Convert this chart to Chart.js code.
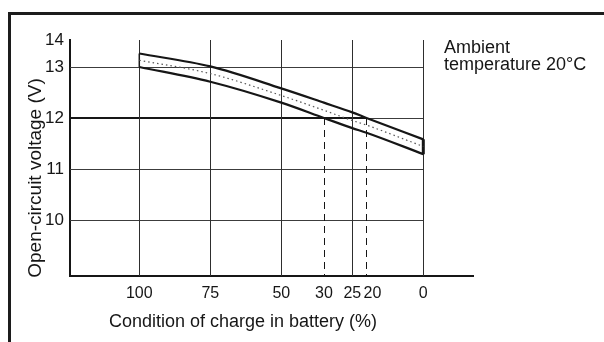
<!DOCTYPE html>
<html>
<head>
<meta charset="utf-8">
<script src="https://cdn.jsdelivr.net/npm/chart.js@4/dist/chart.umd.min.js"></script>
<style>
  html, body { margin: 0; padding: 0; background: #fff; }
  #wrap { width: 604px; height: 342px; }
</style>
</head>
<body>
<div id="wrap"><canvas id="c" width="604" height="342"></canvas></div>
<script>
// ---- data ----
const chargePct   = [100, 75, 50, 30, 25, 20, 0];              // % state of charge
const upperV      = [13.5, 13.02, 12.58, 12.30, 12.11, 12.0, 11.58];
const middleV     = [13.25, 12.87, 12.44, 12.15, 11.95, 11.86, 11.44];
const lowerV      = [13.0, 12.71, 12.30, 12.0, 11.80, 11.71, 11.29];
const xTickValues = [100, 75, 50, 30, 25, 20, 0];
const yTickValues = [10, 11, 12, 13, 14];
const solidGridPct = [100, 75, 50, 25, 0];
const dashedGridPct = [30, 20];
const solidGridV = [10, 11, 13];
const markerV = 12;
const xTitle = 'Condition of charge in battery (%)';
const yTitle = 'Open-circuit voltage (V)';
const noteLines = ['Ambient', 'temperature 20°C'];

// ---- a linear scale whose spacing between tick labels is not uniform (as drawn) ----
class WarpScale extends Chart.LinearScale {
  warp(v) {
    const k = this.options.knots || [];
    if (!k.length) return v;
    if (v <= k[0][0]) return v - k[0][0] + k[0][1];
    const last = k[k.length - 1];
    if (v >= last[0]) return v - last[0] + last[1];
    for (let i = 1; i < k.length; i++) {
      if (v <= k[i][0]) {
        const t = (v - k[i-1][0]) / (k[i][0] - k[i-1][0]);
        return k[i-1][1] + t * (k[i][1] - k[i-1][1]);
      }
    }
    return v;
  }
  unwarp(u) {
    const k = this.options.knots || [];
    if (!k.length) return u;
    if (u <= k[0][1]) return u - k[0][1] + k[0][0];
    const last = k[k.length - 1];
    if (u >= last[1]) return u - last[1] + last[0];
    for (let i = 1; i < k.length; i++) {
      if (u <= k[i][1]) {
        const t = (u - k[i-1][1]) / (k[i][1] - k[i-1][1]);
        return k[i-1][0] + t * (k[i][0] - k[i-1][0]);
      }
    }
    return u;
  }
  determineDataLimits() {
    super.determineDataLimits();
    this.min = this.warp(this.min);
    this.max = this.warp(this.max);
  }
  getPixelForValue(v) { return super.getPixelForValue(this.warp(v)); }
  getValueForPixel(p) { return this.unwarp(super.getValueForPixel(p)); }
  _computeLabelItems(ca) {
    const items = super._computeLabelItems(ca);
    const nudge = this.options.labelNudge || {};
    items.forEach((it, i) => {
      const t = this.ticks[i];
      if (t && nudge[t.value]) it.options.translation[0] += nudge[t.value];
    });
    return items;
  }
}
WarpScale.id = 'warp';
WarpScale.defaults = Chart.LinearScale.defaults;
Chart.register(WarpScale);

const FONT = '"Liberation Sans", Arial, Helvetica, sans-serif';
const INK = '#161616';

const pts = (ys) => chargePct.map((c, i) => ({ x: c, y: ys[i] }));

const decor = {
  id: 'decor',
  beforeDatasetsDraw(chart) {
    const { ctx, scales: { x, y } } = chart;
    const top = y.getPixelForValue(14), bottom = y.bottom;
    const xr = x.getPixelForValue(0), xl = x.left;
    ctx.save();
    ctx.lineCap = 'butt';
    // horizontal grid
    ctx.strokeStyle = '#3c3c3c'; ctx.lineWidth = 1;
    solidGridV.forEach(v => {
      const py = Math.round(y.getPixelForValue(v)) + 0.5;
      ctx.beginPath(); ctx.moveTo(xl, py); ctx.lineTo(xr, py); ctx.stroke();
    });
    // 12 V marker line: heavy up to 20 %, then thin
    const p12 = Math.round(y.getPixelForValue(markerV));
    ctx.beginPath(); ctx.moveTo(xl, p12 + 0.5); ctx.lineTo(xr, p12 + 0.5); ctx.stroke();
    ctx.strokeStyle = INK; ctx.lineWidth = 2;
    ctx.beginPath(); ctx.moveTo(xl, p12); ctx.lineTo(x.getPixelForValue(20), p12); ctx.stroke();
    // vertical grid
    ctx.strokeStyle = '#2e2e2e'; ctx.lineWidth = 1;
    solidGridPct.forEach(c => {
      const px = Math.round(x.getPixelForValue(c)) + 0.5;
      ctx.beginPath(); ctx.moveTo(px, top); ctx.lineTo(px, bottom); ctx.stroke();
    });
    // dashed drop lines
    ctx.strokeStyle = INK; ctx.setLineDash([7, 5]);
    dashedGridPct.forEach(c => {
      const px = Math.round(x.getPixelForValue(c)) + 0.5;
      ctx.beginPath(); ctx.moveTo(px, p12); ctx.lineTo(px, bottom); ctx.stroke();
    });
    ctx.restore();
  },
  afterDraw(chart) {
    const { ctx } = chart;
    ctx.save();
    // frame (left and top edges)
    ctx.fillStyle = '#1c1c1c';
    ctx.fillRect(8, 12, 596, 3);
    ctx.fillRect(8, 12, 3, 330);
    // axis titles
    ctx.fillStyle = INK;
    ctx.font = '18px ' + FONT;
    ctx.textAlign = 'center'; ctx.textBaseline = 'alphabetic';
    ctx.fillText(xTitle, 243, 327);
    ctx.save();
    ctx.translate(41, 178);
    ctx.rotate(-Math.PI / 2);
    ctx.font = '19px ' + FONT;
    ctx.fillText(yTitle, 0, 0);
    ctx.restore();
    // note
    ctx.textAlign = 'left';
    ctx.font = '18px ' + FONT;
    ctx.fillText(noteLines[0], 444, 53);
    ctx.fillText(noteLines[1], 444, 70);
    ctx.restore();
  }
};

new Chart(document.getElementById('c'), {
  type: 'line',
  data: {
    datasets: [
      { label: 'upper', data: pts(upperV), borderColor: INK, borderWidth: 2.2, pointRadius: 0, cubicInterpolationMode: 'monotone' },
      { label: 'middle', data: pts(middleV), borderColor: '#555', borderWidth: 1.2, borderDash: [1.5, 3], pointRadius: 0, cubicInterpolationMode: 'monotone' },
      { label: 'lower', data: pts(lowerV), borderColor: INK, borderWidth: 2.2, pointRadius: 0, cubicInterpolationMode: 'monotone' },
      { label: 'end0', data: [{ x: chargePct[6], y: upperV[6] }, { x: chargePct[6], y: lowerV[6] }], borderColor: INK, borderWidth: 3, pointRadius: 0 },
      { label: 'end100', data: [{ x: chargePct[0], y: upperV[0] }, { x: chargePct[0], y: lowerV[0] }], borderColor: INK, borderWidth: 1.5, pointRadius: 0 }
    ]
  },
  options: {
    responsive: false,
    animation: false,
    devicePixelRatio: 1,
    layout: { padding: { top: 40, right: 131, left: 0, bottom: 0 } },
    plugins: { legend: { display: false }, tooltip: { enabled: false } },
    scales: {
      x: {
        type: 'warp',
        reverse: true,
        min: -17.5, max: 124.4,
        bounds: 'data',
        knots: [[0, 0], [20, 20], [25, 25], [30, 35], [50, 50], [100, 100]],
        labelNudge: { 20: 6 },
        afterBuildTicks: (s) => { s.ticks = xTickValues.map(v => ({ value: v })); },
        afterFit: (s) => { s.height = 66; },
        grid: { display: false, drawTicks: false },
        border: { display: true, width: 2, color: INK },
        ticks: { autoSkip: false, maxRotation: 0, padding: 8, color: INK, font: { family: FONT, size: 16 }, callback: (v) => String(v) }
      },
      y: {
        type: 'warp',
        min: 8.9, max: 14,
        bounds: 'data',
        knots: [[13, 13], [14, 13.529]],
        afterBuildTicks: (s) => { s.ticks = yTickValues.map(v => ({ value: v })); },
        afterFit: (s) => { s.width = 70; },
        grid: { display: false, drawTicks: false },
        border: { display: true, width: 2, color: INK },
        ticks: { autoSkip: false, padding: 6, color: INK, font: { family: FONT, size: 17 }, callback: (v) => String(v) }
      }
    }
  },
  plugins: [decor]
});
</script>
</body>
</html>
